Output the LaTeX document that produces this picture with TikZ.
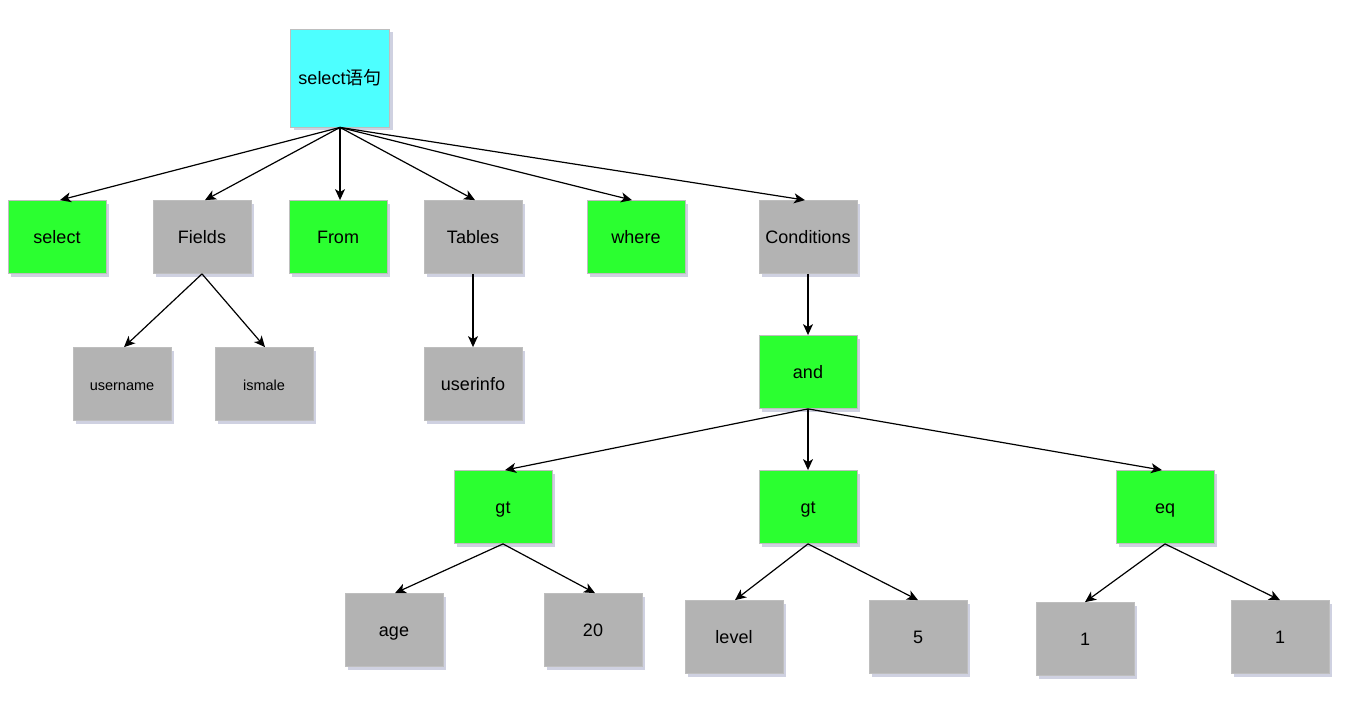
\documentclass[tikz,border=0pt]{standalone}
\usepackage{fontspec}
\setmainfont{Liberation Sans}
\newfontfamily\cjk{Noto Sans CJK SC}
\usetikzlibrary{arrows.meta,shadows}
\definecolor{gnode}{RGB}{43,255,48}
\definecolor{cnode}{RGB}{77,255,255}
\definecolor{graynode}{RGB}{179,179,179}
\definecolor{nodeline}{RGB}{190,190,190}
\definecolor{shadowc}{RGB}{150,155,190}
\begin{document}
\begin{tikzpicture}[x=1pt,y=-1pt,
  base/.style={draw=nodeline, line width=0.8pt, minimum width=98pt, minimum height=73pt, inner sep=0pt,
    font=\fontsize{18}{20}\selectfont, text height=15pt, text depth=2pt,
    drop shadow={shadow xshift=3pt, shadow yshift=-3pt, fill=shadowc, opacity=0.45}},
  gbox/.style={base, fill=gnode},
  kbox/.style={base, fill=graynode},
  small/.style={font=\fontsize{14.5}{16}\selectfont, text height=13pt, text depth=1pt},
  conn/.style={-{Stealth[length=11pt,width=10pt,inset=3pt]}, line width=1.2pt, black}
]
\useasboundingbox (0,0) rectangle (1366,710);
\fill[white] (0,0) rectangle (1366,710);

\node[base, fill=cnode, minimum width=99pt, minimum height=98pt] (root) at (340,78) {select{\cjk 语句}};

\node[gbox] (sel) at (57,237) {select};
\node[kbox] (fields) at (202,237) {Fields};
\node[gbox] (from) at (338,237) {From};
\node[kbox] (tables) at (473,237) {Tables};
\node[gbox] (where) at (636,237) {where};
\node[kbox] (cond) at (808,237) {Conditions};

\node[kbox, small] (user) at (122,384) {username};
\node[kbox, small] (ismale) at (264,384) {ismale};
\node[kbox] (uinfo) at (473,384) {userinfo};

\node[gbox] (and) at (808,372) {and};

\node[gbox] (gta) at (503,507) {gt};
\node[gbox] (gtb) at (808,507) {gt};
\node[gbox] (eq) at (1165,507) {eq};

\node[kbox] (age) at (394,630) {age};
\node[kbox] (twenty) at (593,630) {20};
\node[kbox] (level) at (734,637) {level};
\node[kbox] (five) at (918,637) {5};
\node[kbox] (onea) at (1085,639) {1};
\node[kbox] (oneb) at (1280,637) {1};

\draw[conn] (root.south) -- ([xshift=3pt]sel.north);
\draw[conn] (root.south) -- ([xshift=3pt]fields.north);
\draw[conn] (root.south) -- ([xshift=2pt]from.north);
\draw[conn] (root.south) -- ([xshift=2pt]tables.north);
\draw[conn] (root.south) -- ([xshift=-4pt]where.north);
\draw[conn] (root.south) -- ([xshift=-3pt]cond.north);

\draw[conn] (fields.south) -- ([xshift=2pt]user.north);
\draw[conn] (fields.south) -- ([xshift=1pt]ismale.north);
\draw[conn] (tables.south) -- (uinfo.north);

\draw[conn] (cond.south) -- (and.north);
\draw[conn] (and.south) -- ([xshift=2pt]gta.north);
\draw[conn] (and.south) -- (gtb.north);
\draw[conn] (and.south) -- ([xshift=-3pt]eq.north);

\draw[conn] (gta.south) -- ([xshift=1pt]age.north);
\draw[conn] (gta.south) -- ([xshift=2pt]twenty.north);
\draw[conn] (gtb.south) -- ([xshift=1pt]level.north);
\draw[conn] (gtb.south) -- (five.north);
\draw[conn] (eq.south) -- (onea.north);
\draw[conn] (eq.south) -- (oneb.north);
\end{tikzpicture}
\end{document}
